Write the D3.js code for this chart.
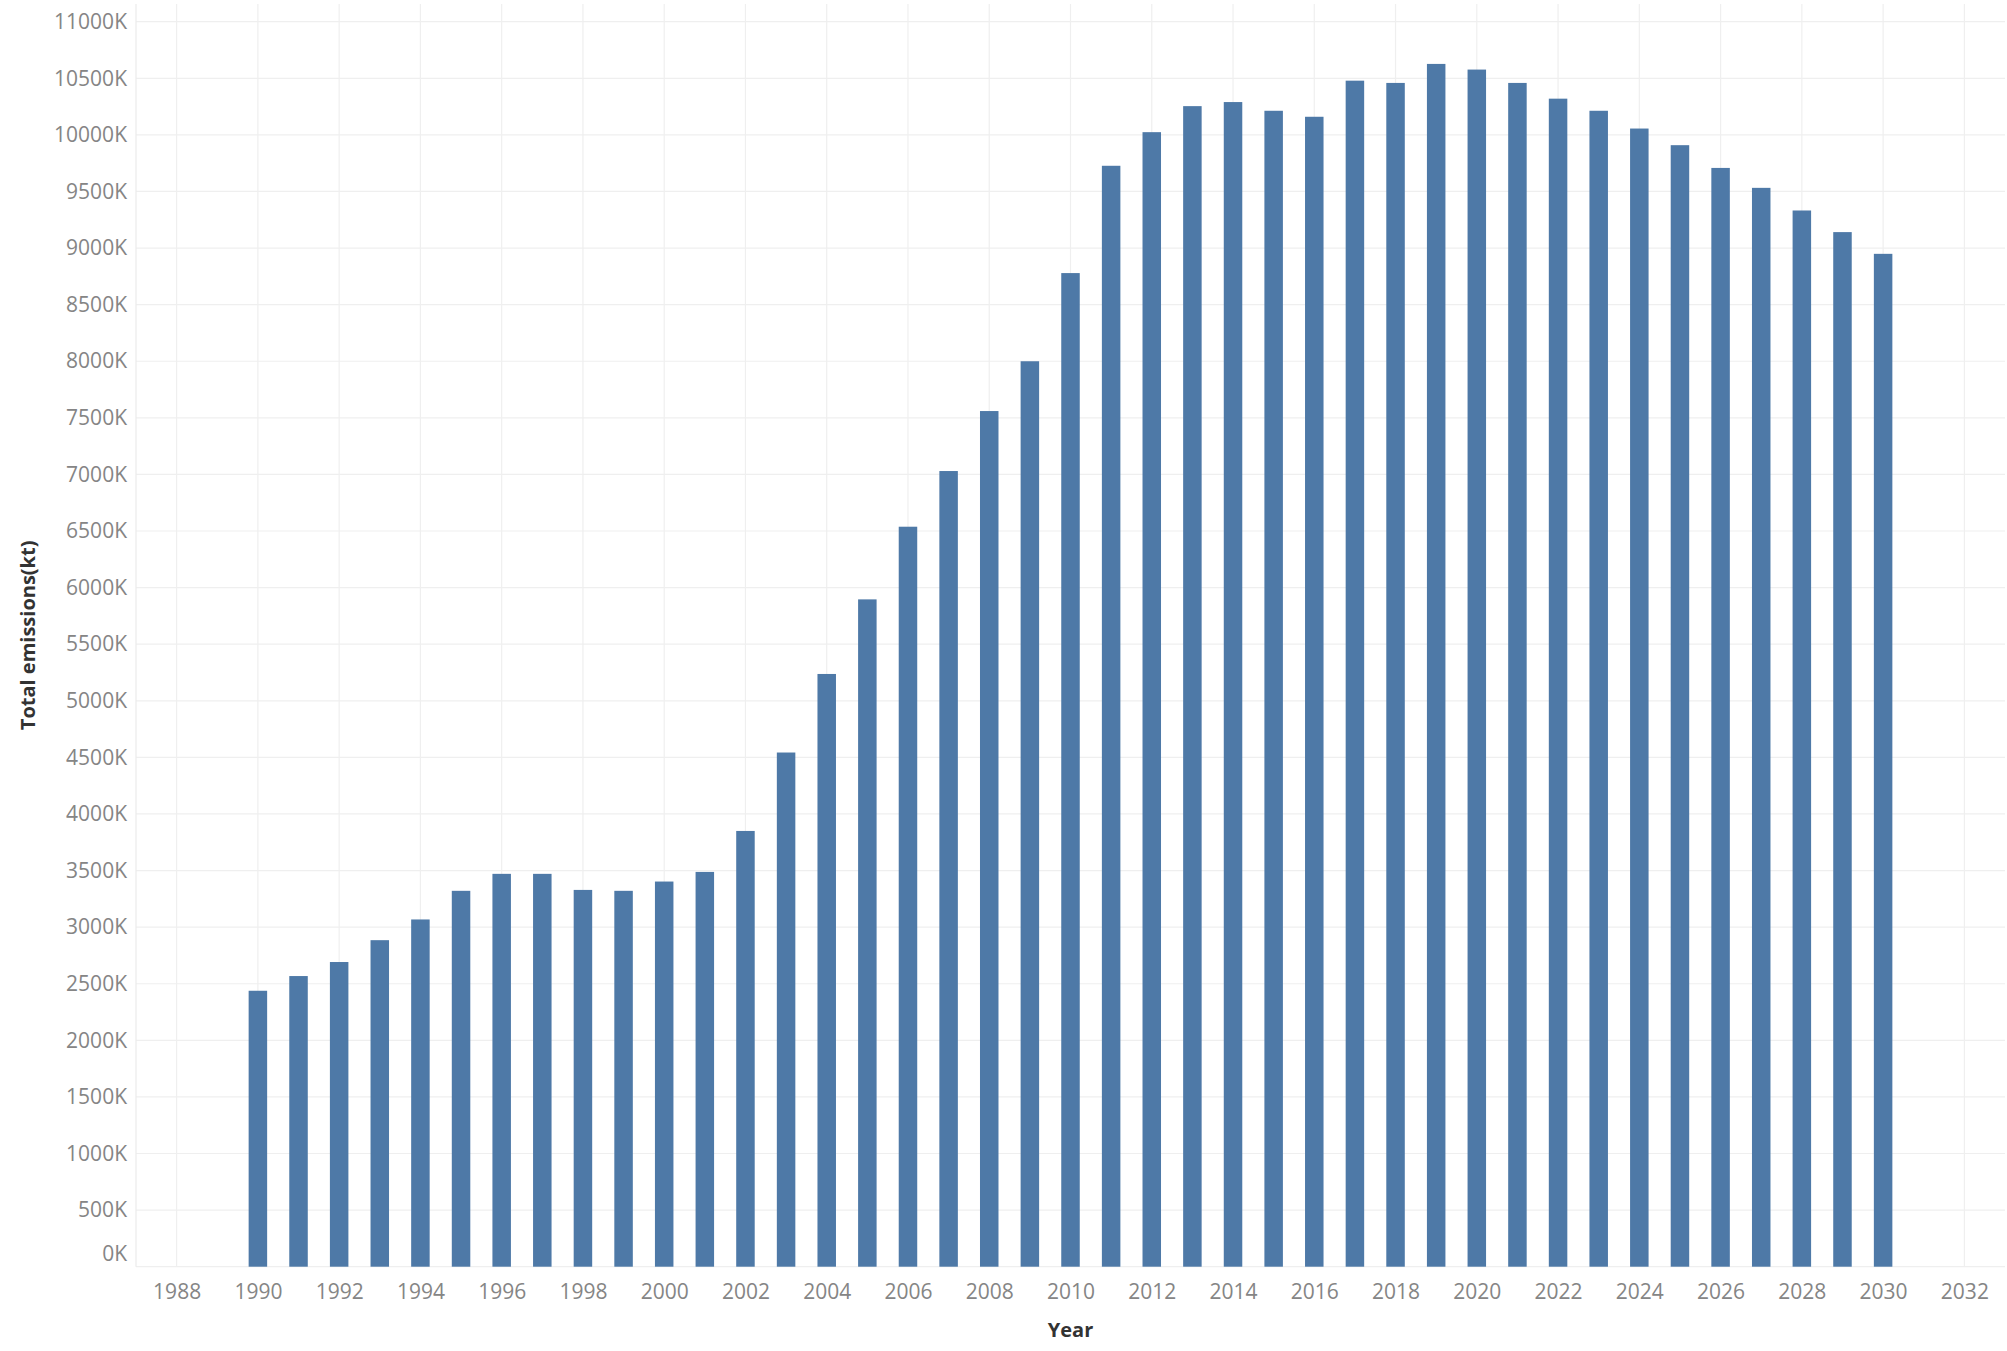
<!DOCTYPE html>
<html>
<head>
<meta charset="utf-8">
<script src="https://cdn.jsdelivr.net/npm/d3@7"></script>
<style>
  body { margin: 0; background: #fff; }
  text { font-family: "Open Sans", sans-serif; }
</style>
</head>
<body>
<div id="chart"></div>
<script>
// Data
const years = d3.range(1990, 2031);
const emissions = [2438, 2568, 2692, 2885, 3068, 3321, 3471, 3471, 3329, 3321,
  3403, 3488, 3850, 4543, 5237, 5896, 6538, 7030, 7560, 8000,
  8779, 9727, 10024, 10254, 10290, 10213, 10160, 10479, 10459, 10627,
  10577, 10459, 10320, 10213, 10056, 9909, 9708, 9532, 9332, 9141, 8949];
const xTicks = d3.range(1988, 2033, 2);
const yTicks = d3.range(0, 11001, 500);

// Dimensions
let w = 2007, h = 1351;
let mLeft = 136, mRight = 2005, mTop = 4, mBottom = 1266.7;

let svg = d3.select("#chart").append("svg").attr("width", w).attr("height", h);

// Scales
let x = d3.scaleLinear().domain([1987, 2033]).range([mLeft, mRight]);
let y = d3.scaleLinear().domain([0, 11000]).range([mBottom, 21.7]);

// Gridlines
svg.append("g").selectAll("line").data(yTicks).enter().append("line")
  .attr("x1", mLeft).attr("x2", mRight)
  .attr("y1", d => y(d)).attr("y2", d => y(d))
  .attr("stroke", "#efefef").attr("stroke-width", 1.2);
svg.append("g").selectAll("line").data(xTicks).enter().append("line")
  .attr("x1", d => x(d)).attr("x2", d => x(d))
  .attr("y1", mTop).attr("y2", mBottom)
  .attr("stroke", "#efefef").attr("stroke-width", 1.2);
svg.append("line").attr("x1", mLeft).attr("x2", mLeft).attr("y1", mTop).attr("y2", mBottom)
  .attr("stroke", "#ebebeb").attr("stroke-width", 1.2);

// Bars
let bw = 18.5;
svg.append("g").selectAll("rect").data(years).enter().append("rect")
  .attr("x", d => x(d) - bw / 2)
  .attr("width", bw)
  .attr("y", (d, i) => y(emissions[i]))
  .attr("height", (d, i) => mBottom - y(emissions[i]))
  .attr("fill", "#4e79a7");

// Y axis labels (0K is nudged up to stay inside the pane, like the original)
let yAxis = svg.append("g").attr("transform", `translate(${mLeft},0)`)
  .call(d3.axisLeft(y).tickValues(yTicks).tickSize(0).tickPadding(9).tickFormat(d => d + "K"));
yAxis.select(".domain").remove();
yAxis.selectAll("text").attr("font-size", 21).attr("fill", "#858585")
  .style("font-family", "'Open Sans', sans-serif");
yAxis.selectAll(".tick").filter(d => d === 0).select("text").attr("dy", "-0.3em");

// X axis labels
let xAxis = svg.append("g").attr("transform", `translate(0,${mBottom})`)
  .call(d3.axisBottom(x).tickValues(xTicks).tickSize(0).tickPadding(17).tickFormat(d3.format("d")));
xAxis.select(".domain").remove();
xAxis.selectAll("text").attr("font-size", 21).attr("fill", "#858585")
  .style("font-family", "'Open Sans', sans-serif");

// Axis titles
svg.append("text").attr("x", (mLeft + mRight) / 2).attr("y", 1337)
  .attr("text-anchor", "middle").attr("font-size", 20).attr("font-weight", "bold")
  .attr("fill", "#333").text("Year");
svg.append("text").attr("transform", `translate(35,${(mTop + mBottom) / 2}) rotate(-90)`)
  .attr("text-anchor", "middle").attr("font-size", 20).attr("font-weight", "bold")
  .attr("fill", "#333").text("Total emissions(kt)");
</script>
</body>
</html>
